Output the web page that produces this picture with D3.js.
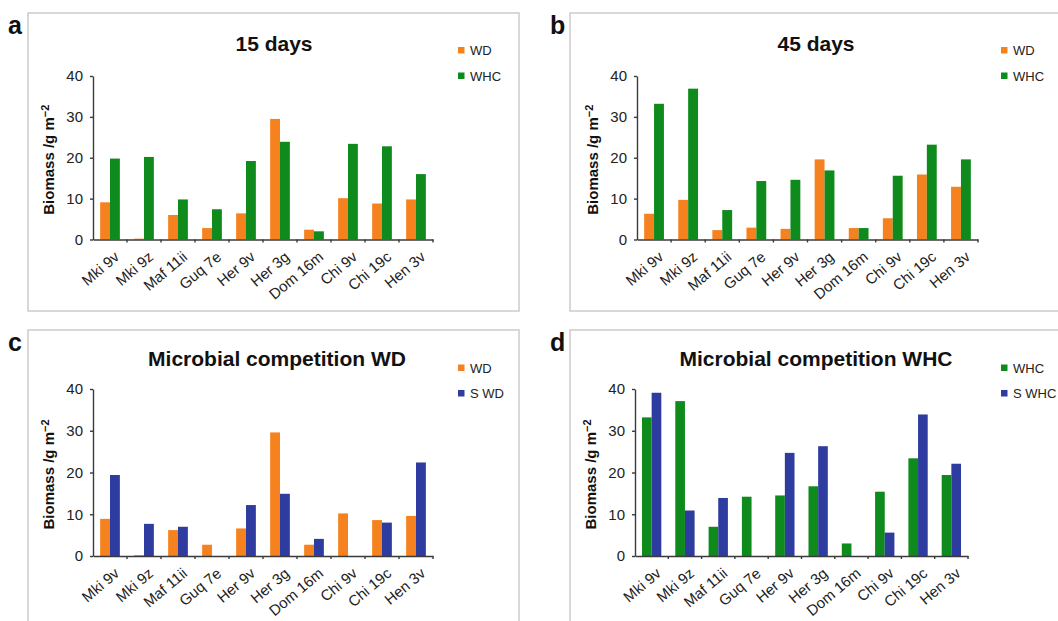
<!DOCTYPE html>
<html>
<head>
<meta charset="utf-8">
<style>
body { margin: 0; background: #fff; }
svg { display: block; font-family: "Liberation Sans", Arial, sans-serif; }
.axis path, .axis line { stroke: #3a3a3a; stroke-width: 1.4; }
.axis text { fill: #222; }
</style>
</head>
<body>
<svg id="chart" width="1058" height="621"></svg>
<script src="https://cdn.jsdelivr.net/npm/d3@7"></script>
<script>
// strains on the x axis
var categories = ["Mki 9v", "Mki 9z", "Maf 11ii", "Guq 7e", "Her 9v", "Her 3g", "Dom 16m", "Chi 9v", "Chi 19c", "Hen 3v"];
var yTicks = [0, 10, 20, 30, 40];

// biomass, g m-2
var wd15 = [9.1, 0.2, 6.0, 2.8, 6.4, 29.5, 2.4, 10.1, 8.8, 9.8];
var whc15 = [19.8, 20.2, 9.8, 7.4, 19.2, 23.9, 2.0, 23.4, 22.8, 16.0];
var wd45 = [6.3, 9.7, 2.3, 2.9, 2.6, 19.6, 2.8, 5.2, 15.9, 12.9];
var whc45 = [33.2, 36.9, 7.2, 14.3, 14.6, 16.9, 2.8, 15.6, 23.2, 19.6];
var wdComp = [8.9, 0.2, 6.2, 2.7, 6.6, 29.6, 2.7, 10.2, 8.6, 9.6];
var sWd = [19.4, 7.7, 7.0, 0, 12.2, 14.9, 4.1, 0, 8.0, 22.4];
var whcComp = [33.2, 37.1, 7.0, 14.2, 14.5, 16.7, 3.0, 15.4, 23.4, 19.4];
var sWhc = [39.1, 10.9, 13.9, 0, 24.7, 26.3, 0, 5.6, 33.9, 22.1];

var orange = "#f5821f", green = "#0f8a1c", blue = "#2f3c9f";

var panels = [
  {tag: "a", title: "15 days", fx: 28, fy: 13, x0: 93, x1: 433, yT: 76, yB: 239.5, tx: 274, ty: 51, lx: 458, ly: 47,
   series: [{name: "WD", values: wd15, color: orange}, {name: "WHC", values: whc15, color: green}]},
  {tag: "b", title: "45 days", fx: 570, fy: 13, x0: 637, x1: 978, yT: 76, yB: 239.5, tx: 816, ty: 51, lx: 1001, ly: 47,
   series: [{name: "WD", values: wd45, color: orange}, {name: "WHC", values: whc45, color: green}]},
  {tag: "c", title: "Microbial competition WD", fx: 28, fy: 330, x0: 93, x1: 433, yT: 389, yB: 556, tx: 277, ty: 366, lx: 458, ly: 364.5,
   series: [{name: "WD", values: wdComp, color: orange}, {name: "S WD", values: sWd, color: blue}]},
  {tag: "d", title: "Microbial competition WHC", fx: 570, fy: 330, x0: 635, x1: 968, yT: 389, yB: 556, tx: 816, ty: 366, lx: 1001, ly: 364.5,
   series: [{name: "WHC", values: whcComp, color: green}, {name: "S WHC", values: sWhc, color: blue}]}
];

var svg = d3.select("#chart");

panels.forEach(function(p) {
  var g = svg.append("g");

  g.append("rect")
    .attr("x", p.fx).attr("y", p.fy)
    .attr("width", 491).attr("height", 298)
    .attr("fill", "none").attr("stroke", "#cfcfcf").attr("stroke-width", 1.6);

  g.append("text")
    .attr("x", p.fx - 20).attr("y", p.fy + 21)
    .attr("font-size", 25).attr("font-weight", "bold").attr("fill", "#111")
    .text(p.tag);

  g.append("text")
    .attr("x", p.tx).attr("y", p.ty)
    .attr("text-anchor", "middle")
    .attr("font-size", 21).attr("font-weight", "bold").attr("fill", "#111")
    .text(p.title);

  var x = d3.scaleBand().domain(categories).range([p.x0, p.x1]);
  var y = d3.scaleLinear().domain([0, 40]).range([p.yB, p.yT]);
  var inner = d3.scaleBand()
    .domain(p.series.map(function(s) { return s.name; }))
    .range([0, x.bandwidth() * 0.58]);
  var shift = x.bandwidth() * 0.21;

  p.series.forEach(function(s) {
    g.selectAll(null)
      .data(s.values)
      .enter().append("rect")
      .attr("x", function(d, i) { return x(categories[i]) + shift + inner(s.name); })
      .attr("y", function(d) { return y(d); })
      .attr("width", inner.bandwidth())
      .attr("height", function(d) { return p.yB - y(d); })
      .attr("fill", s.color);
  });

  // y axis
  var ya = g.append("g")
    .attr("class", "axis")
    .attr("transform", "translate(" + p.x0 + ",0)")
    .call(d3.axisLeft(y).tickValues(yTicks).tickSize(3).tickSizeOuter(0).tickPadding(7));
  ya.selectAll("text").attr("font-size", 15);

  // x axis, ticks sit on the band edges
  var xa = g.append("g")
    .attr("class", "axis")
    .attr("transform", "translate(0," + p.yB + ")")
    .call(d3.axisBottom(x).tickSize(0).tickSizeOuter(0).tickFormat(""));
  xa.selectAll(".edge")
    .data(categories.slice(1).concat([null]))
    .enter().append("line")
    .attr("x1", function(d) { return d ? x(d) : p.x1; })
    .attr("x2", function(d) { return d ? x(d) : p.x1; })
    .attr("y1", 0).attr("y2", 3);

  g.selectAll(null)
    .data(categories)
    .enter().append("text")
    .attr("transform", function(d) {
      return "translate(" + (x(d) + x.bandwidth() / 2 + 7) + "," + (p.yB + 15) + ") rotate(-40)";
    })
    .attr("text-anchor", "end")
    .attr("dy", "0.35em")
    .attr("font-size", 15).attr("fill", "#222")
    .text(function(d) { return d; });

  // y title
  var yt = g.append("text")
    .attr("transform", "translate(" + (p.x0 - 39) + "," + ((p.yT + p.yB) / 2 + 2) + ") rotate(-90)")
    .attr("text-anchor", "middle")
    .attr("font-size", 15).attr("font-weight", "bold").attr("fill", "#111");
  yt.append("tspan").text("Biomass /g m");
  yt.append("tspan").attr("dy", "-0.45em").attr("font-size", 11).text("\u22122");

  // legend
  var lg = g.selectAll(".leg")
    .data(p.series)
    .enter().append("g")
    .attr("transform", function(s, i) { return "translate(" + p.lx + "," + (p.ly + i * 25.5) + ")"; });
  lg.append("rect").attr("width", 6.5).attr("height", 6.5).attr("fill", function(s) { return s.color; });
  lg.append("text")
    .attr("x", 12).attr("y", 3.5).attr("dy", "0.35em")
    .attr("font-size", 13).attr("fill", "#222")
    .text(function(s) { return s.name; });
});
</script>
</body>
</html>
